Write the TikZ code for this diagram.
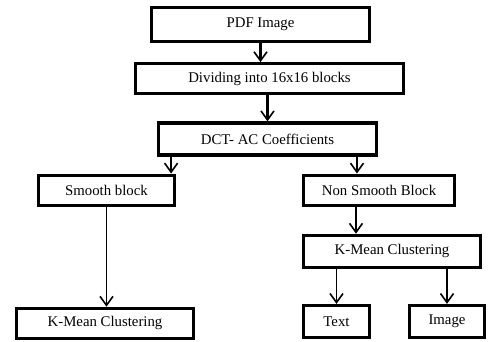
\documentclass[tikz,border=0pt]{standalone}
\usepackage{fontspec}
\setmainfont{Liberation Serif}
\usetikzlibrary{arrows.meta,positioning}

\begin{document}
\begin{tikzpicture}[
		x=1pt, y=-1pt,
		font=\fontsize{14.8}{17}\selectfont,
		block/.style={draw, line width=3.2pt, minimum height=30pt, inner sep=2pt, align=center},
		arr/.style={-{Straight Barb[length=9pt, width=13pt, line width=1.6pt]}, line width=1.5pt},
		bigarr/.style={arr, line width=2.4pt},
	]
		\useasboundingbox (0,0) rectangle (488,341);

		\node[block, minimum width=218pt, minimum height=34pt] (pdf) at (260.5,24.5) {PDF Image};
		\node[block, below=19pt of pdf, xshift=9pt, minimum width=268pt] (div) {Dividing into 16x16 blocks};
		\node[block, below=26pt of div, xshift=-2pt, minimum width=218pt, minimum height=32pt] (dct) {DCT- AC Coefficients};
		\node[block, below=17pt of dct, xshift=-161pt, minimum width=136pt] (smooth) {Smooth block};
		\node[block, below=17pt of dct, xshift=111.5pt, minimum width=151pt] (nsmooth) {Non Smooth Block};
		\node[block, below=100pt of smooth, xshift=-1.5pt, minimum width=177pt] (kml) {K-Mean Clustering};
		\node[block, below=27pt of nsmooth, xshift=13pt, minimum width=177pt, minimum height=32pt] (kmr) {K-Mean Clustering};
		\node[block, below=35pt of kmr, xshift=-55.5pt, minimum width=66pt, minimum height=32pt] (txt) {Text};
		\node[block, below=35pt of kmr, xshift=55pt, minimum width=75pt, minimum height=32pt] (img) {Image};

		\coordinate (s1) at ([xshift=-5pt]smooth.north east);
		\coordinate (n1) at ([xshift=-22pt]nsmooth.north);
		\coordinate (n2) at ([xshift=-23pt]nsmooth.south);

		\draw[bigarr] (pdf) -- (pdf|-div.north);
		\draw[bigarr] (dct|-div.south) -- (dct);
		\draw[bigarr] (s1|-dct.south) -- (s1);
		\draw[bigarr] (n1|-dct.south) -- (n1);
		\draw[arr] (smooth) -- (smooth|-kml.north);
		\draw[arr] (n2) -- (n2|-kmr.north);
		\draw[arr] (txt|-kmr.south) -- (txt);
		\draw[arr] (img|-kmr.south) -- (img);
	\end{tikzpicture}
\end{document}
